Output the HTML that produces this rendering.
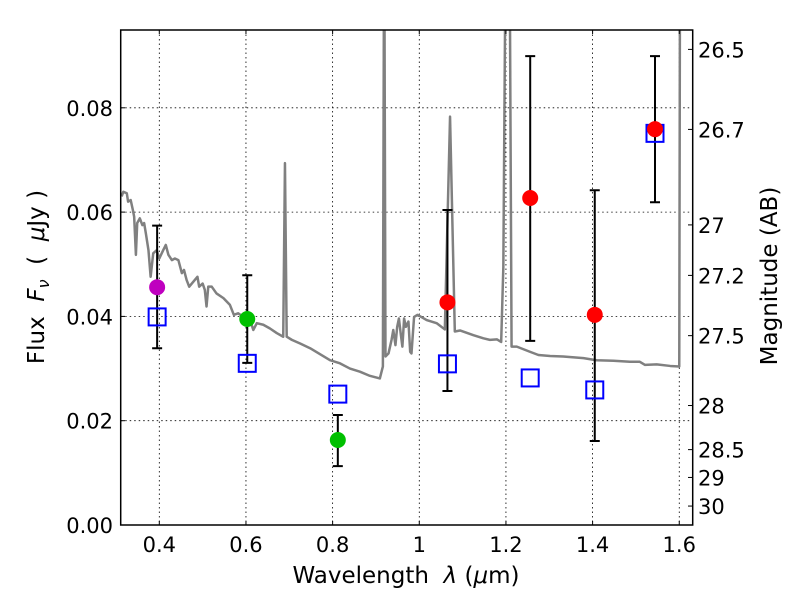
<!DOCTYPE html>
<html><head><meta charset="utf-8"><style>
body{margin:0;background:#fff;}
svg text{font-family:"DejaVu Sans","Liberation Sans",sans-serif;fill:#000;}
.pre{white-space:pre;}
</style></head><body>
<svg id="chart" width="800" height="600" xmlns="http://www.w3.org/2000/svg">
<defs><clipPath id="clip"><rect x="120.7" y="30" width="572" height="495"/></clipPath></defs>
<g id="grid"></g>
<g id="spec" clip-path="url(#clip)"></g>
<g id="marks"></g>
<rect x="120.7" y="30" width="572" height="495" fill="none" stroke="#000" stroke-width="1.5"/>
<g id="axes"></g>
<text class="pre" x="406" y="583" font-size="23" text-anchor="middle">Wavelength  <tspan font-style="italic">λ</tspan> (<tspan font-style="italic">μ</tspan>m)</text>
<text class="pre" transform="translate(44,277) rotate(-90)" font-size="23" text-anchor="middle">Flux  <tspan font-style="italic">F<tspan font-size="16" dy="5">ν</tspan></tspan><tspan dy="-5">  (  </tspan><tspan font-style="italic">μ</tspan>Jy )</text>
<text transform="translate(777,276) rotate(-90)" font-size="23" text-anchor="middle">Magnitude (AB)</text>
</svg>
<script>
const specLam=[0.313,0.317,0.325,0.328,0.334,0.339,0.342,0.346,0.349,0.355,0.361,0.365,0.369,0.375,0.380,0.386,0.394,0.400,0.409,0.415,0.421,0.429,0.436,0.444,0.452,0.457,0.463,0.469,0.475,0.482,0.488,0.492,0.500,0.505,0.509,0.513,0.521,0.532,0.548,0.563,0.572,0.582,0.594,0.605,0.613,0.617,0.625,0.640,0.655,0.671,0.686,0.690,0.694,0.706,0.725,0.748,0.794,0.817,0.840,0.863,0.886,0.909,0.916,0.919,0.922,0.929,0.936,0.940,0.945,0.949,0.953,0.957,0.961,0.965,0.969,0.975,0.979,0.982,0.988,0.996,1.017,1.040,1.059,1.071,1.082,1.094,1.125,1.148,1.163,1.179,1.189,1.194,1.200,1.208,1.213,1.225,1.256,1.275,1.302,1.332,1.379,1.409,1.448,1.486,1.509,1.521,1.548,1.579,1.600,1.602];
const specFlux=[0.0630,0.0639,0.0636,0.0620,0.0623,0.0604,0.0591,0.0518,0.0579,0.0588,0.0575,0.0579,0.0559,0.0527,0.0476,0.0521,0.0527,0.0511,0.0527,0.0537,0.0518,0.0508,0.0511,0.0508,0.0483,0.0489,0.0470,0.0457,0.0463,0.0470,0.0476,0.0457,0.0463,0.0451,0.0419,0.0457,0.0457,0.0444,0.0435,0.0422,0.0403,0.0406,0.0399,0.0390,0.0384,0.0374,0.0387,0.0384,0.0377,0.0368,0.0361,0.0694,0.0361,0.0355,0.0348,0.0339,0.0316,0.0310,0.0300,0.0294,0.0286,0.0281,0.0304,0.12,0.0323,0.0329,0.0355,0.0374,0.0345,0.0380,0.0396,0.0368,0.0342,0.0396,0.0380,0.0390,0.0332,0.0329,0.0399,0.0403,0.0393,0.0387,0.0375,0.0783,0.0371,0.0373,0.0364,0.0358,0.0355,0.0356,0.0351,0.0495,0.12,0.12,0.0342,0.0342,0.0332,0.0326,0.0324,0.0323,0.0320,0.0316,0.0315,0.0313,0.0313,0.0307,0.0308,0.0305,0.0304,0.12];
const obsLam=[0.395,0.603,0.812,1.065,1.256,1.405,1.544];
const obsFlux=[0.0456,0.0395,0.0163,0.0427,0.0627,0.0403,0.0759];
const errHi=[0.0574,0.0479,0.0211,0.0604,0.0899,0.0642,0.0899];
const errLo=[0.0339,0.0311,0.0113,0.0257,0.0353,0.0161,0.0619];
const obsColor=["#bf00bf","#00c000","#00c000","#ff0000","#ff0000","#ff0000","#ff0000"];
const modelFlux=[0.0399,0.0310,0.0251,0.0309,0.0282,0.0259,0.0751];
const xTicks=[0.4,0.6,0.8,1.0,1.2,1.4,1.6];
const xTickLabels=["0.4","0.6","0.8","1","1.2","1.4","1.6"];
const yTicks=[0,0.02,0.04,0.06,0.08];
const yTickLabels=["0.00","0.02","0.04","0.06","0.08"];
const magTicks=[26.5,26.7,27,27.2,27.5,28,28.5,29,30];
const magTickLabels=["26.5","26.7","27","27.2","27.5","28","28.5","29","30"];

const NS="http://www.w3.org/2000/svg";
const X=l=>159.3+(l-0.4)*433.3;
const Y=f=>525-f*5215;
function mk(p,tag,a){const e=document.createElementNS(NS,tag);for(const k in a)e.setAttribute(k,a[k]);p.appendChild(e);return e;}
const grid=document.getElementById('grid'),axes=document.getElementById('axes'),spec=document.getElementById('spec'),marks=document.getElementById('marks');
xTicks.forEach((t,i)=>{const x=X(t);
 const g=mk(grid,'line',{x1:x,x2:x,y1:30,y2:525,stroke:'#000','stroke-width':0.8,'stroke-dasharray':'1.5,3'});
 
 mk(axes,'line',{x1:x,x2:x,y1:525,y2:521,stroke:'#000'});mk(axes,'line',{x1:x,x2:x,y1:30,y2:34,stroke:'#000'});
 const tx=mk(axes,'text',{x:x,y:552,'font-size':21,'text-anchor':'middle'});tx.textContent=xTickLabels[i];
 });
yTicks.forEach((t,i)=>{const y=Y(t);
 if(t>0){const g=mk(grid,'line',{x1:120.7,x2:692.7,y1:y,y2:y,stroke:'#000','stroke-width':0.8,'stroke-dasharray':'1.5,3'});
 }
 mk(axes,'line',{x1:120.7,x2:125,y1:y,y2:y,stroke:'#000'});
 const tx=mk(axes,'text',{x:113,y:y+8,'font-size':21,'text-anchor':'end'});tx.textContent=yTickLabels[i];
 });
magTicks.forEach((m,i)=>{const y=Y(Math.pow(10,(23.9-m)/2.5));
 mk(axes,'line',{x1:692.7,x2:688,y1:y,y2:y,stroke:'#000'});
 const tx=mk(axes,'text',{x:698,y:y+8,'font-size':21});tx.textContent=magTickLabels[i];
 });
const pl=mk(spec,'polyline',{points:specLam.map((l,i)=>X(l)+','+Y(specFlux[i])).join(' '),fill:'none',stroke:'#808080','stroke-width':2.5,'stroke-linejoin':'round'});

obsLam.forEach((l,i)=>{const x=X(l);
 const e=mk(marks,'path',{d:`M${x},${Y(errLo[i])}V${Y(errHi[i])}M${x-5},${Y(errLo[i])}h10M${x-5},${Y(errHi[i])}h10`,stroke:'#000','stroke-width':2,fill:'none'});
 
 const s=mk(marks,'rect',{x:x-8.5,y:Y(modelFlux[i])-8.5,width:17,height:17,fill:'none',stroke:'#0000ff','stroke-width':2});
 
 const c=mk(marks,'circle',{cx:x,cy:Y(obsFlux[i]),r:8,fill:obsColor[i]});
 });
</script>
</body></html>
